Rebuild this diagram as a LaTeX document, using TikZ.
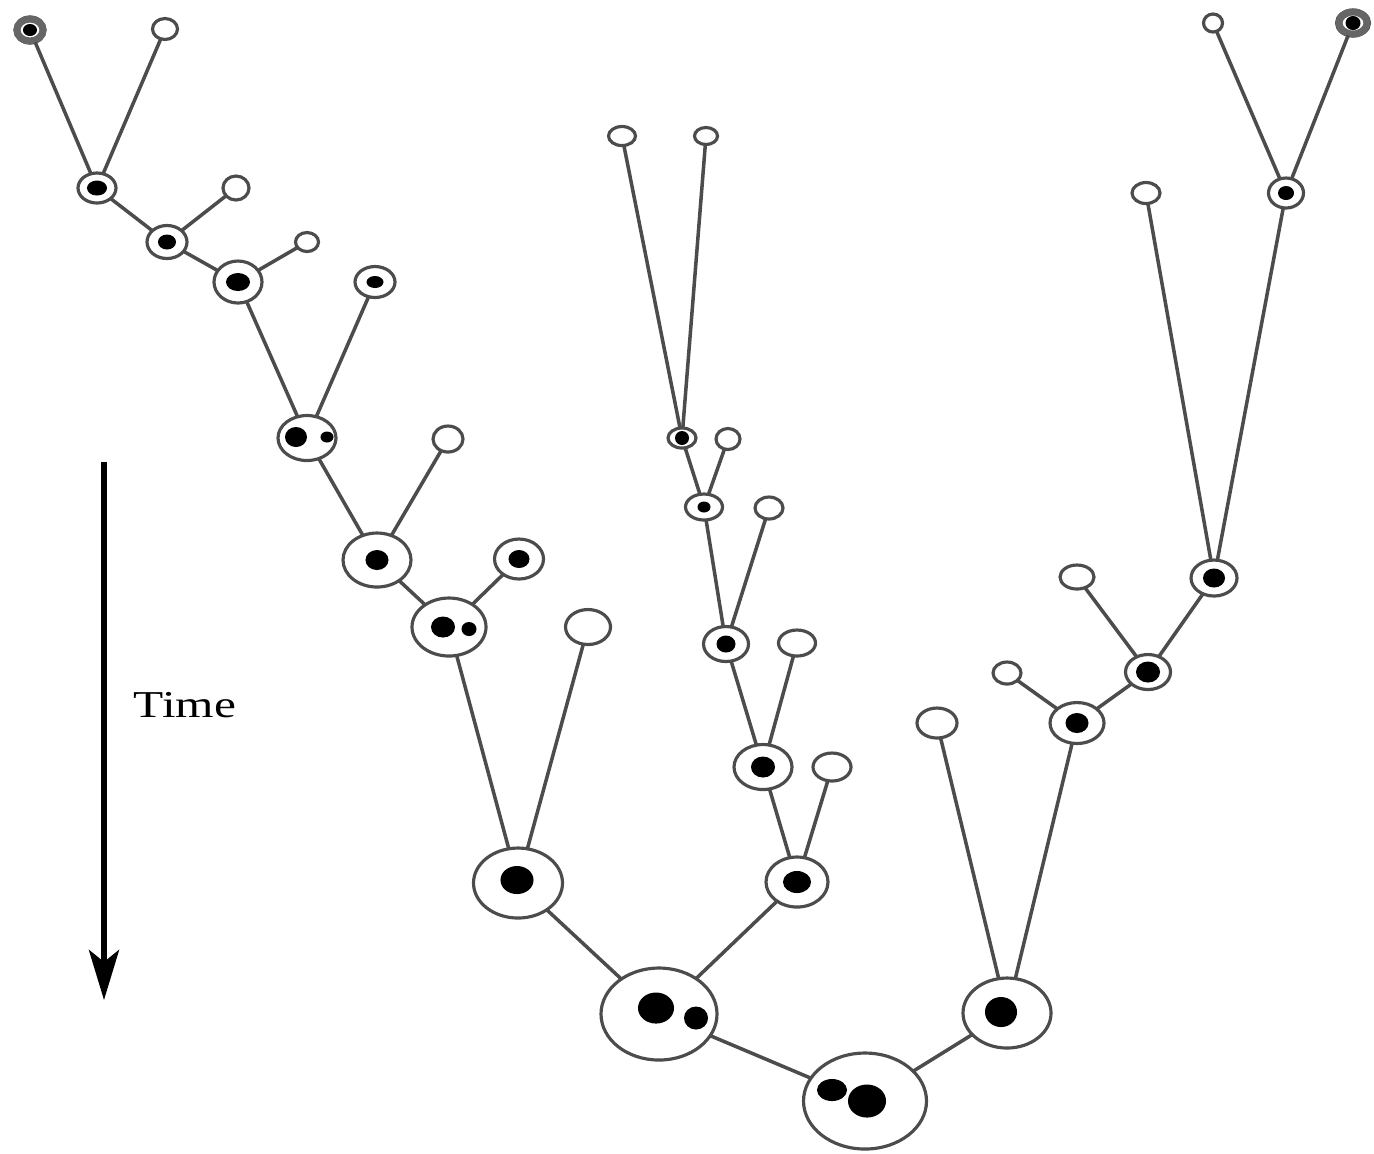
\documentclass[tikz,border=0pt]{standalone}
\usepackage{fontspec}
\setmainfont{Liberation Serif}
\usetikzlibrary{shapes.geometric, arrows.meta}
\tikzset{
	cell/.style={ellipse, draw=black!70, line width=0.9pt, fill=white, inner sep=0pt, outer sep=0pt},
	link/.style={draw=black!70, line width=1pt},
}
% cell: name, x, y, width, height
\newcommand{\cell}[5]{
	\node[cell, minimum width=#4*0.01cm, minimum height=#5*0.01cm] (#1) at (#2,#3) {};
}
% dark nucleus: x, y, width, height
\newcommand{\nucleus}[4]{
	\fill (#1,#2) ellipse [x radius=#3*0.005cm, y radius=#4*0.005cm];
}

\begin{document}
\begin{tikzpicture}[x=0.01cm, y=-0.01cm]
	\useasboundingbox (0,0) rectangle (1374,1153);

	% Left lineage
	\cell{l1}{30}{30}{30}{26}
	\cell{l1b}{165}{29}{25}{21}
	\cell{l2}{97}{188}{38}{30}
	\cell{l3}{236}{188}{26}{24}
	\cell{l4}{167}{242}{40}{33}
	\cell{l4b}{307}{242}{23}{19}
	\cell{l5}{238}{282}{48}{42}
	\cell{l5b}{375}{282}{40}{31}
	\cell{l6}{307}{438}{58}{45}
	\cell{l6b}{448}{439}{30}{26}
	\cell{l7}{377}{560}{68}{54}
	\cell{l7b}{519}{559}{49}{40}
	\cell{l8}{449}{627}{74}{58}
	\cell{l8b}{588}{627}{45}{35}
	\cell{l9}{518}{883}{89}{70}
	\draw[black!60, line width=2pt] (l1.center) ellipse [x radius=0.13cm, y radius=0.11cm];
	\nucleus{30}{30}{14}{12}
	\nucleus{97}{188}{20}{15}
	\nucleus{167}{242}{18}{15}
	\nucleus{238}{282}{24}{18}
	\nucleus{375}{282}{17}{12}
	\nucleus{296}{437}{22}{20}
	\nucleus{327}{437}{13}{11}
	\nucleus{377}{560}{23}{20}
	\nucleus{519}{559}{21}{18}
	\nucleus{443}{627}{24}{21}
	\nucleus{469}{629}{15}{14}
	\nucleus{517}{880}{33}{28}

	% Middle lineage
	\cell{m1}{622}{136}{27}{19}
	\cell{m1b}{706}{136}{23}{17}
	\cell{m2}{682}{438}{28}{20}
	\cell{m2b}{728}{439}{24}{21}
	\cell{m3}{704}{507}{37}{26}
	\cell{m3b}{769}{508}{28}{22}
	\cell{m4}{726}{644}{45}{35}
	\cell{m4b}{797}{643}{37}{26}
	\cell{m5}{763}{767}{58}{45}
	\cell{m5b}{832}{767}{38}{28}
	\cell{m6}{797}{882}{62}{50}
	\nucleus{682}{438}{14}{14}
	\nucleus{704}{507}{13}{11}
	\nucleus{726}{644}{19}{17}
	\nucleus{763}{767}{24}{21}
	\nucleus{797}{882}{28}{22}

	% Right lineage
	\cell{r1}{1213}{23}{19}{18}
	\cell{r1b}{1353}{23}{33}{26}
	\cell{r2}{1286}{193}{35}{30}
	\cell{r2b}{1146}{193}{28}{21}
	\cell{r3}{1214}{578}{46}{36}
	\cell{r3b}{1077}{577}{34}{24}
	\cell{r4}{1148}{672}{45}{35}
	\cell{r4b}{1007}{673}{28}{22}
	\cell{r5}{1077}{723}{54}{41}
	\cell{r5b}{937}{723}{40}{30}
	\cell{r6}{1007}{1013}{88}{70}
	\draw[black!60, line width=2pt] (r1b.center) ellipse [x radius=0.14cm, y radius=0.11cm];
	\nucleus{1353}{23}{15}{14}
	\nucleus{1286}{193}{16}{14}
	\nucleus{1214}{578}{22}{19}
	\nucleus{1148}{672}{24}{21}
	\nucleus{1077}{723}{23}{20}
	\nucleus{1001}{1012}{32}{30}

	% Common ancestors
	\cell{b1}{659}{1014}{116}{92}
	\cell{b2}{865}{1101}{123}{96}
	\nucleus{656}{1008}{36}{31}
	\nucleus{696}{1018}{24}{23}
	\nucleus{832}{1090}{30}{22}
	\nucleus{867}{1101}{38}{33}

	% Links
	\draw[link] (l1) -- (l2);
	\draw[link] (l1b) -- (l2);
	\draw[link] (l2) -- (l4);
	\draw[link] (l3) -- (l4);
	\draw[link] (l4) -- (l5);
	\draw[link] (l4b) -- (l5);
	\draw[link] (l5) -- (l6);
	\draw[link] (l5b) -- (l6);
	\draw[link] (l6) -- (l7);
	\draw[link] (l6b) -- (l7);
	\draw[link] (l7) -- (l8);
	\draw[link] (l7b) -- (l8);
	\draw[link] (l8) -- (l9);
	\draw[link] (l8b) -- (l9);
	\draw[link] (l9) -- (b1);

	\draw[link] (m1) -- (m2);
	\draw[link] (m1b) -- (m2);
	\draw[link] (m2) -- (m3);
	\draw[link] (m2b) -- (m3);
	\draw[link] (m3) -- (m4);
	\draw[link] (m3b) -- (m4);
	\draw[link] (m4) -- (m5);
	\draw[link] (m4b) -- (m5);
	\draw[link] (m5) -- (m6);
	\draw[link] (m5b) -- (m6);
	\draw[link] (m6) -- (b1);

	\draw[link] (r1) -- (r2);
	\draw[link] (r1b) -- (r2);
	\draw[link] (r2) -- (r3);
	\draw[link] (r2b) -- (r3);
	\draw[link] (r3) -- (r4);
	\draw[link] (r3b) -- (r4);
	\draw[link] (r4) -- (r5);
	\draw[link] (r4b) -- (r5);
	\draw[link] (r5) -- (r6);
	\draw[link] (r5b) -- (r6);
	\draw[link] (r6) -- (b2);

	\draw[link] (b1) -- (b2);

	% Time axis
	\coordinate (t0) at (104,462);
	\coordinate (t1) at (104,1000);
	\draw[line width=1.7pt, -{Stealth[length=0.5cm, width=0.3cm, inset=0.12cm]}] (t0) -- (t1);
	\node[font=\fontsize{10.8}{13}\selectfont, xscale=1.3] (time) at (185,705) {Time};
\end{tikzpicture}
\end{document}
